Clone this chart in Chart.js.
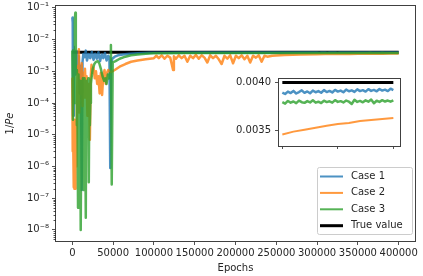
<!DOCTYPE html>
<html>
<head>
<meta charset="utf-8">
<script src="https://cdn.jsdelivr.net/npm/chart.js@4"></script>
<style>
  html, body { margin: 0; padding: 0; background: #fff; }
  #wrap { position: relative; width: 423px; height: 276px; }
  #wrap canvas { position: absolute; left: 0; top: 0; }
</style>
</head>
<body>
<div id="wrap">
  <canvas id="mainChart" width="423" height="276"></canvas>
  <canvas id="insetChart" width="423" height="276"></canvas>
</div>
<script>
const FONT = "DejaVu Sans";
const INK = "#262626";

// labels / colours of the four curves
const seriesLabels = ["Case 1", "Case 2", "Case 3", "True value"];
const seriesColors = ["rgba(31,119,180,0.8)", "rgba(255,127,14,0.8)", "rgba(44,160,44,0.8)", "#000000"];

// axis ticks
const xTicks = [0, 50000, 100000, 150000, 200000, 250000, 300000, 350000, 400000];
const yTicks = [1e-8, 1e-7, 1e-6, 1e-5, 1e-4, 1e-3, 1e-2, 1e-1];
const minorSteps = [2, 3, 4, 5, 6, 7, 8, 9];
const insetXTicks = [300000, 350000, 400000];
const insetYTicks = [0.0035, 0.004];

// Case 1 (blue) - first part
const case1Epochs = [0, 500, 1000, 1500, 2000, 3000, 3500, 4000, 5000, 6000,
  7000, 8000, 9000, 10500, 11500, 12500, 13500, 15000, 16500, 18000,
  20000, 22000, 24000, 26000, 28000, 30000, 32000, 34000, 36000, 38000,
  40000, 42000, 44000, 45500, 46500, 47500, 49000, 52000, 56000, 62000,
  70000, 80000, 95000, 120000, 160000, 200000, 250000, 280000];
const case1Values = [0.05, 0.035, 0.00004, 0.006, 0.0035, 0.0045, 0.0008, 0.003, 0.0025, 0.0042,
  0.0009, 0.003, 0.0002, 0.0015, 1.8e-7, 0.002, 0.0035, 0.0028, 0.0045, 0.0022,
  0.0035, 0.0026, 0.0041, 0.0023, 0.0036, 0.0025, 0.004, 0.0021, 0.0034, 0.0026,
  0.0038, 0.0022, 0.0031, 0.0027, 9e-7, 0.0018, 0.0025, 0.0029, 0.0032, 0.0034,
  0.0036, 0.0037, 0.00383, 0.00387, 0.00389, 0.0039, 0.0039, 0.0039];

// Case 2 (orange)
const case2Epochs = [0, 500, 1000, 1500, 2000, 2500, 3000, 3500, 4000, 5000,
  6000, 7000, 8000, 8500, 9500, 10500, 11500, 12500, 13500, 14500,
  15500, 16500, 17500, 18500, 19500, 20500, 21500, 22500, 23500, 24500,
  26000, 27500, 29000, 30500, 32000, 33500, 35000, 36500, 38000, 39500,
  41000, 42500, 44000, 45500, 47000, 49000, 52000, 58000, 65000, 72000,
  80000, 90000, 100000,
  103000, 106000, 109500, 113000, 116500, 120000, 123500, 124500, 127000, 130500,
  134000, 137500, 141000, 144500, 148000, 151500, 155000, 158500, 162000, 165500,
  169000, 172500, 176000, 179500, 183000, 186500, 190000, 193500, 197000, 200500,
  204000, 207500, 211000, 214500, 218000, 221500, 225000, 228500, 232000, 235500,
  239000, 245000, 260000, 280000,
  300000, 310000, 320000, 330000, 340000, 350000, 360000, 370000, 380000, 390000, 400000];
const case2Values = [0.0006, 3e-6, 1e-5, 2.2e-7, 5e-6, 2e-7, 3e-5, 2e-7, 2e-5, 1e-6,
  0.0003, 0.0015, 0.005, 0.00005, 0.0007, 0.0002, 0.0018, 0.00008, 0.0009, 0.00015,
  0.0012, 0.0003, 0.0007, 0.00004, 0.0004, 0.0004, 7e-6, 0.0006, 0.0016, 0.0009,
  0.0013, 0.0006, 0.001, 0.0004, 0.0007, 0.0002, 0.0009, 0.00018, 0.0008, 0.0011,
  0.0004, 0.0009, 0.0011, 0.001, 0.00095, 0.001, 0.0011, 0.0014, 0.0017, 0.002,
  0.0022, 0.0024, 0.0026,
  0.0031, 0.0026, 0.0032, 0.0025, 0.0031, 0.0027, 0.0011, 0.003, 0.0025, 0.0032,
  0.0026, 0.0031, 0.002, 0.0031, 0.0026, 0.0033, 0.0025, 0.0032, 0.0027, 0.0019,
  0.0032, 0.0026, 0.0031, 0.0024, 0.0017, 0.0031, 0.0025, 0.0032, 0.0018, 0.0031,
  0.0026, 0.0032, 0.0024, 0.0031, 0.0019, 0.0031, 0.0027, 0.0032, 0.002, 0.0031,
  0.0029, 0.0031, 0.00325, 0.00338,
  0.00346, 0.00349, 0.00351, 0.00353, 0.00355, 0.00357, 0.00358, 0.0036, 0.00361, 0.00362, 0.00363];

// Case 3 (green) - first part
const case3Epochs = [0, 800, 1600, 2400, 3000, 3700, 4300, 5000, 5600, 6300,
  7000, 7600, 8200, 8800, 9500, 10000, 10600, 11200, 11800, 12300,
  13000, 13800, 14400, 15000, 15600, 16500, 17100, 17700, 18300, 19000,
  19600, 20200, 20900, 21500, 22100, 22800, 23500, 25000,
  27000, 29000, 31000, 33000, 35000, 37000, 39000, 40500, 42000, 43500,
  45000, 46500, 47300, 48300, 49500, 53000, 58000, 65000, 72000, 80000,
  90000, 100000, 115000, 140000, 180000, 230000, 280000];
const case3Values = [0.0045, 3e-5, 0.0025, 0.0001, 0.04, 0.07, 0.0002, 0.0011, 0.00002, 0.00008,
  5e-8, 0.0008, 0.00003, 0.0002, 0.0005, 0.00001, 1e-8, 0.0004, 0.00005, 0.0001,
  0.0006, 1.8e-7, 0.0006, 0.00002, 0.00015, 2.4e-8, 0.0005, 0.00004, 0.0002, 0.00003,
  0.0006, 3.2e-7, 0.0003, 0.00002, 0.0001, 0.0004, 0.0006, 0.0012,
  0.0017, 0.002, 0.0021, 0.0018, 0.0012, 0.0007, 0.0005, 0.0006, 0.0004, 0.0008,
  0.0006, 0.0009, 0.0068, 2.7e-7, 0.0019, 0.0021, 0.0025, 0.0029, 0.0032, 0.0034,
  0.0036, 0.0037, 0.00375, 0.00378, 0.00379, 0.0038, 0.0038];

// last 100000 epochs, fine sampling (seen in the inset)
const lateEpochs = [300000, 302500, 305000, 307500, 310000, 312500, 315000, 317500, 320000, 322500,
  325000, 327500, 330000, 332500, 335000, 337500, 340000, 342500, 345000, 347500,
  350000, 352500, 355000, 357500, 360000, 362500, 365000, 367500, 370000, 372500,
  375000, 377500, 380000, 382500, 385000, 387500, 390000, 392500, 395000, 397500, 400000];
const case1Late = [0.003895, 0.00388, 0.003905, 0.00389, 0.003912, 0.003885, 0.0039, 0.003918, 0.003892, 0.003906,
  0.003888, 0.003915, 0.003898, 0.00391, 0.003893, 0.00392, 0.0039, 0.003912, 0.003896, 0.003922,
  0.003905, 0.003915, 0.003898, 0.003925, 0.003908, 0.003918, 0.003902, 0.003928, 0.00391, 0.00392,
  0.003905, 0.00393, 0.003912, 0.003922, 0.003908, 0.003932, 0.003915, 0.003925, 0.00391, 0.003935, 0.00392];
const case3Late = [0.003795, 0.00378, 0.003808, 0.00379, 0.003802, 0.003785, 0.003812, 0.003795, 0.003788, 0.003806,
  0.003792, 0.003815, 0.00379, 0.0038, 0.003786, 0.00381, 0.003796, 0.003804, 0.00379, 0.003816,
  0.003798, 0.003806, 0.003792, 0.003812, 0.0038, 0.003776, 0.00382, 0.003798, 0.003808, 0.003794,
  0.003814, 0.0038, 0.003822, 0.003784, 0.00381, 0.003798, 0.003816, 0.003802, 0.003812, 0.0038, 0.003814];

// true value (black)
const trueEpochs = [0, 300000, 400000];
const trueValues = [0.004, 0.004, 0.004];

function pts(xs, ys) {
  return xs.map((x, i) => ({ x: x, y: ys[i] }));
}

const allSeries = [
  pts(case1Epochs.concat(lateEpochs), case1Values.concat(case1Late)),
  pts(case2Epochs, case2Values),
  pts(case3Epochs.concat(lateEpochs), case3Values.concat(case3Late)),
  pts(trueEpochs, trueValues),
];

// matplotlib draws black underneath, green on top
const drawOrder = [3, 2, 1, 4];

function makeDatasets(widths, minX) {
  return allSeries.map((data, i) => ({
    label: seriesLabels[i],
    data: minX === undefined ? data : data.filter(p => p.x >= minX),
    borderColor: seriesColors[i],
    backgroundColor: seriesColors[i],
    borderWidth: widths[i],
    borderJoinStyle: "round",
    pointRadius: 0,
    fill: false,
    tension: 0,
    order: drawOrder[i],
  }));
}

const tickFont = { family: FONT, size: 10 };
const supers = { "-": "\u207B", "0": "\u2070", "1": "\u00B9", "2": "\u00B2", "3": "\u00B3",
  "4": "\u2074", "5": "\u2075", "6": "\u2076", "7": "\u2077", "8": "\u2078", "9": "\u2079" };

function powLabel(v) {
  const e = String(Math.round(Math.log10(v)));
  return "10" + e.split("").map(c => supers[c]).join("");
}

// frame around the axes (all four spines)
const framePlugin = {
  id: "frame",
  beforeDraw(chart, args, opts) {
    if (!opts.fill) return;
    const { ctx, chartArea: a } = chart;
    ctx.save();
    ctx.fillStyle = opts.fill;
    ctx.fillRect(a.left, a.top, a.right - a.left, a.bottom - a.top);
    ctx.restore();
  },
  afterDraw(chart) {
    const { ctx, chartArea: a } = chart;
    ctx.save();
    ctx.strokeStyle = "#404040";
    ctx.lineWidth = 1;
    ctx.strokeRect(Math.round(a.left) - 0.5, Math.round(a.top) - 0.5,
      Math.round(a.right - a.left) + 1, Math.round(a.bottom - a.top) + 1);
    ctx.restore();
  }
};

// minor log ticks, y title with italic Pe, legend box
const decorPlugin = {
  id: "decor",
  afterDraw(chart) {
    const { ctx, chartArea: a } = chart;
    const ys = chart.scales.y;
    ctx.save();
    ctx.strokeStyle = INK;
    ctx.lineWidth = 0.8;
    ctx.beginPath();
    for (let e = -9; e <= -1; e++) {
      minorSteps.forEach(k => {
        const v = k * Math.pow(10, e);
        if (v < ys.min || v > ys.max) return;
        const y = Math.round(ys.getPixelForValue(v)) + 0.5;
        ctx.moveTo(a.left - 2.5, y);
        ctx.lineTo(a.left, y);
      });
    }
    ctx.stroke();

    // y axis title
    ctx.save();
    ctx.translate(10, (a.top + a.bottom) / 2);
    ctx.rotate(-Math.PI / 2);
    ctx.fillStyle = INK;
    ctx.textBaseline = "middle";
    const up = "10px " + FONT;
    const it = "italic 10px " + FONT;
    ctx.font = up;
    const w1 = ctx.measureText("1/").width;
    ctx.font = it;
    const w2 = ctx.measureText("Pe").width;
    const x0 = -(w1 + w2) / 2;
    ctx.font = up;
    ctx.fillText("1/", x0, 0);
    ctx.font = it;
    ctx.fillText("Pe", x0 + w1, 0);
    ctx.restore();

    // legend
    const box = { left: 317, top: 167, width: 95, height: 67 };
    ctx.fillStyle = "rgba(255,255,255,0.8)";
    ctx.strokeStyle = "#cccccc";
    ctx.lineWidth = 1;
    ctx.beginPath();
    ctx.roundRect(box.left + 0.5, box.top + 0.5, box.width, box.height, 2);
    ctx.fill();
    ctx.stroke();
    ctx.font = "10px " + FONT;
    ctx.textBaseline = "middle";
    chart.data.datasets.forEach((ds, i) => {
      const y = box.top + 9.5 + i * 16.4;
      ctx.strokeStyle = ds.borderColor;
      ctx.lineWidth = i === 3 ? 3 : 2;
      ctx.beginPath();
      ctx.moveTo(box.left + 3, y);
      ctx.lineTo(box.left + 26, y);
      ctx.stroke();
      ctx.fillStyle = INK;
      ctx.fillText(ds.label, box.left + 34, y);
    });
    ctx.restore();
  }
};

new Chart(document.getElementById("mainChart"), {
  type: "line",
  data: { datasets: makeDatasets([2.5, 2.5, 2.5, 3]) },
  options: {
    responsive: false,
    animation: false,
    devicePixelRatio: 1,
    layout: { padding: { top: 6, right: 8, bottom: 0, left: 0 } },
    plugins: { legend: { display: false }, tooltip: { enabled: false }, frame: { fill: null } },
    scales: {
      x: {
        type: "linear",
        min: -20000,
        max: 420000,
        afterBuildTicks: s => { s.ticks = xTicks.map(v => ({ value: v })); },
        afterFit: s => { s.height = 35; s.paddingLeft = 0; s.paddingRight = 0; },
        ticks: { autoSkip: false, maxRotation: 0, padding: 2, color: INK, font: tickFont,
          callback: v => String(v) },
        grid: { drawOnChartArea: false, drawTicks: true, tickLength: 4, color: INK, lineWidth: 0.8 },
        border: { display: false },
        title: { display: true, text: "Epochs", color: INK, font: tickFont, padding: { top: 0, bottom: 2 } }
      },
      y: {
        type: "logarithmic",
        min: Math.pow(10, -8.35),
        max: Math.pow(10, -0.94),
        afterBuildTicks: s => { s.ticks = yTicks.map(v => ({ value: v })); },
        afterFit: s => { s.width = 56; s.paddingTop = 0; s.paddingBottom = 0; },
        ticks: { autoSkip: false, padding: 3, color: INK, font: tickFont, callback: v => powLabel(v) },
        grid: { drawOnChartArea: false, drawTicks: true, tickLength: 4, color: INK, lineWidth: 0.8 },
        border: { display: false }
      }
    }
  },
  plugins: [framePlugin, decorPlugin]
});

// inset: last 100000 epochs, linear y
new Chart(document.getElementById("insetChart"), {
  type: "line",
  data: { datasets: makeDatasets([2.5, 2, 2.5, 3], 300000) },
  options: {
    responsive: false,
    animation: false,
    devicePixelRatio: 1,
    layout: { padding: { top: 79, right: 23, bottom: 0, left: 0 } },
    plugins: { legend: { display: false }, tooltip: { enabled: false }, frame: { fill: "#ffffff" } },
    scales: {
      x: {
        type: "linear",
        min: 297000,
        max: 406000,
        afterBuildTicks: s => { s.ticks = insetXTicks.map(v => ({ value: v })); },
        afterFit: s => { s.height = 130; s.paddingLeft = 0; s.paddingRight = 0; },
        ticks: { autoSkip: false, maxRotation: 0, font: tickFont, callback: () => "" },
        grid: { drawOnChartArea: false, drawTicks: true, tickLength: 3, color: INK, lineWidth: 0.8 },
        border: { display: false }
      },
      y: {
        type: "linear",
        min: 0.003341,
        max: 0.0040354,
        afterBuildTicks: s => { s.ticks = insetYTicks.map(v => ({ value: v })); },
        afterFit: s => { s.width = 279; s.paddingTop = 0; s.paddingBottom = 0; },
        ticks: { autoSkip: false, padding: 4, color: INK, font: tickFont, callback: v => v.toFixed(4) },
        grid: { drawOnChartArea: false, drawTicks: true, tickLength: 4, color: INK, lineWidth: 0.8 },
        border: { display: false }
      }
    }
  },
  plugins: [framePlugin]
});
</script>
</body>
</html>
